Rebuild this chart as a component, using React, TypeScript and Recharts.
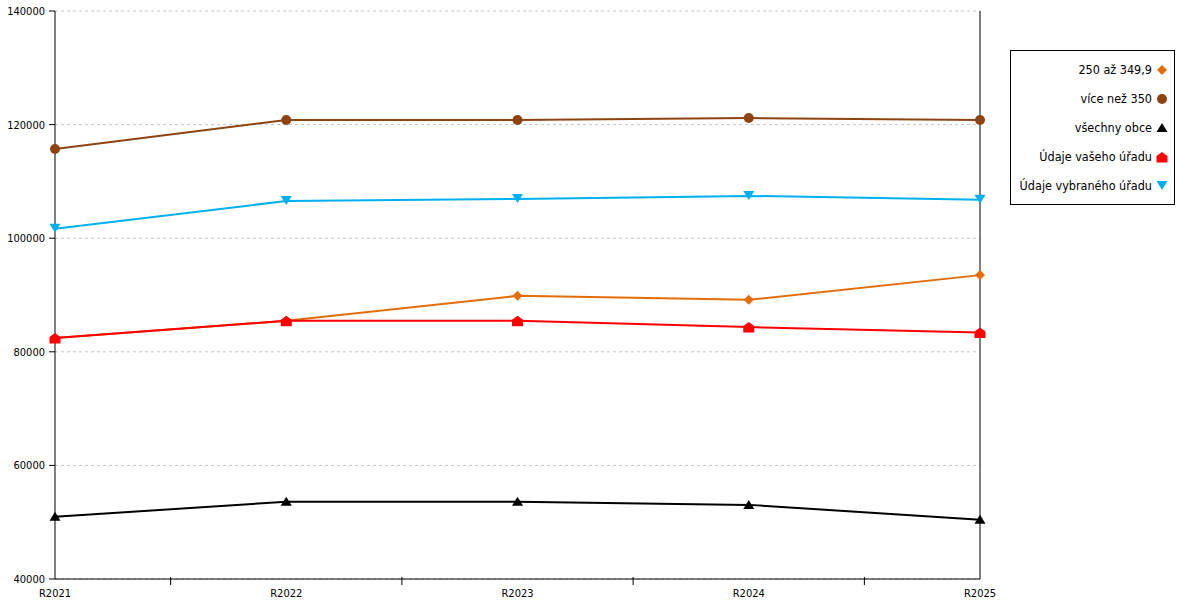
import React from "react"
import { CartesianGrid, Line, LineChart, ReferenceLine, XAxis, YAxis } from "recharts"

const years = ["R2021", "R2022", "R2023", "R2024", "R2025"]
const range250 = [82450, 85450, 89850, 89150, 93500]
const over350 = [115700, 120800, 120800, 121150, 120800]
const allTowns = [50950, 53600, 53600, 53050, 50450]
const yourOffice = [82450, 85450, 85450, 84350, 83400]
const selectedOffice = [101650, 106550, 106900, 107450, 106750]
const yTicks = [40000, 60000, 80000, 100000, 120000, 140000]
const xTicks = [0, 0.5, 1, 1.5, 2, 2.5, 3, 3.5, 4]

const font = "'DejaVu Sans Condensed', 'DejaVu Sans', sans-serif"

const data = years.map((label, i) => ({
    x: i,
    label,
    range250: range250[i],
    over350: over350[i],
    allTowns: allTowns[i],
    yourOffice: yourOffice[i],
    selectedOffice: selectedOffice[i],
}))

type ShapeProps = { cx: number, cy: number, color: string }

const Diamond = ({ cx, cy, color }: ShapeProps) =>
    <polygon points={`${cx},${cy - 5} ${cx + 5},${cy} ${cx},${cy + 5} ${cx - 5},${cy}`} fill={color} />
const Circle = ({ cx, cy, color }: ShapeProps) =>
    <circle cx={cx} cy={cy} r={5} fill={color} />
const TriUp = ({ cx, cy, color }: ShapeProps) =>
    <polygon points={`${cx},${cy - 5} ${cx + 5.5},${cy + 4} ${cx - 5.5},${cy + 4}`} fill={color} />
const House = ({ cx, cy, color }: ShapeProps) =>
    <polygon points={`${cx},${cy - 5} ${cx + 5.5},${cy - 1} ${cx + 5.5},${cy + 5.5} ${cx - 5.5},${cy + 5.5} ${cx - 5.5},${cy - 1}`} fill={color} />
const TriDown = ({ cx, cy, color }: ShapeProps) =>
    <polygon points={`${cx - 5.5},${cy - 5} ${cx + 5.5},${cy - 5} ${cx},${cy + 4}`} fill={color} />

const series = [
    { key: "range250", name: "250 až 349,9", color: "#E46C0A", Shape: Diamond },
    { key: "over350", name: "více než 350", color: "#8E4410", Shape: Circle },
    { key: "allTowns", name: "všechny obce", color: "#000000", Shape: TriUp },
    { key: "yourOffice", name: "Údaje vašeho úřadu", color: "#FF0000", Shape: House },
    { key: "selectedOffice", name: "Údaje vybraného úřadu", color: "#00B0F0", Shape: TriDown },
]

const XTick = (props: any) => {
    const { x, y, payload } = props
    const v = payload.value
    if (Number.isInteger(v)) {
        return (
            <text x={x} y={y + 18} textAnchor="middle" fontSize={11} fontFamily={font} fill="#000">
                {years[v]}
            </text>
        )
    }
    return <line x1={x} x2={x} y1={y - 2} y2={y + 6} stroke="#000" />
}

const LegendBox = () => (
    <div style={{
        position: "absolute", left: 1010, top: 50, width: 165,
        border: "1px solid #000", background: "#fff", padding: "4px 5px 4px 2px",
        fontFamily: font, fontSize: 12.5, boxSizing: "border-box",
    }}>
        {series.map(s => (
            <div key={s.key} style={{ height: 29, display: "flex", alignItems: "center", justifyContent: "flex-end", whiteSpace: "nowrap" }}>
                <span>{s.name}</span>
                <svg width={14} height={14} style={{ marginLeft: 3 }}>
                    <s.Shape cx={7} cy={7} color={s.color} />
                </svg>
            </div>
        ))}
    </div>
)

const App = () => {
    return (
        <div style={{ position: "absolute", left: 0, top: 0, width: 1200, height: 600, background: "#fff" }}>
            <LineChart width={1200} height={600} data={data} margin={{ top: 11, right: 220, bottom: 0, left: 0 }}>
                <CartesianGrid vertical={false} stroke="#c4c4c4" strokeDasharray="3 3" />
                <XAxis
                    dataKey="x"
                    type="number"
                    domain={[0, 4]}
                    ticks={xTicks}
                    interval={0}
                    height={21}
                    tickSize={0}
                    tickMargin={0}
                    tickLine={false}
                    axisLine={{ stroke: "#000" }}
                    tick={<XTick />}
                />
                <YAxis
                    domain={[40000, 140000]}
                    ticks={yTicks}
                    width={55}
                    tickSize={6}
                    tickMargin={4}
                    interval={0}
                    axisLine={{ stroke: "#000" }}
                    tickLine={{ stroke: "#000" }}
                    tick={{ fill: "#000", fontSize: 11, fontFamily: font }}
                />
                <ReferenceLine x={4} stroke="#000" />
                {series.map(s => (
                    <Line
                        key={s.key}
                        dataKey={s.key}
                        name={s.name}
                        stroke={s.color}
                        strokeWidth={2}
                        isAnimationActive={false}
                        dot={(p: any) => <s.Shape key={p.index} cx={p.cx} cy={p.cy} color={s.color} />}
                        activeDot={false}
                    />
                ))}
            </LineChart>
            <LegendBox />
        </div>
    )
}

export default App
